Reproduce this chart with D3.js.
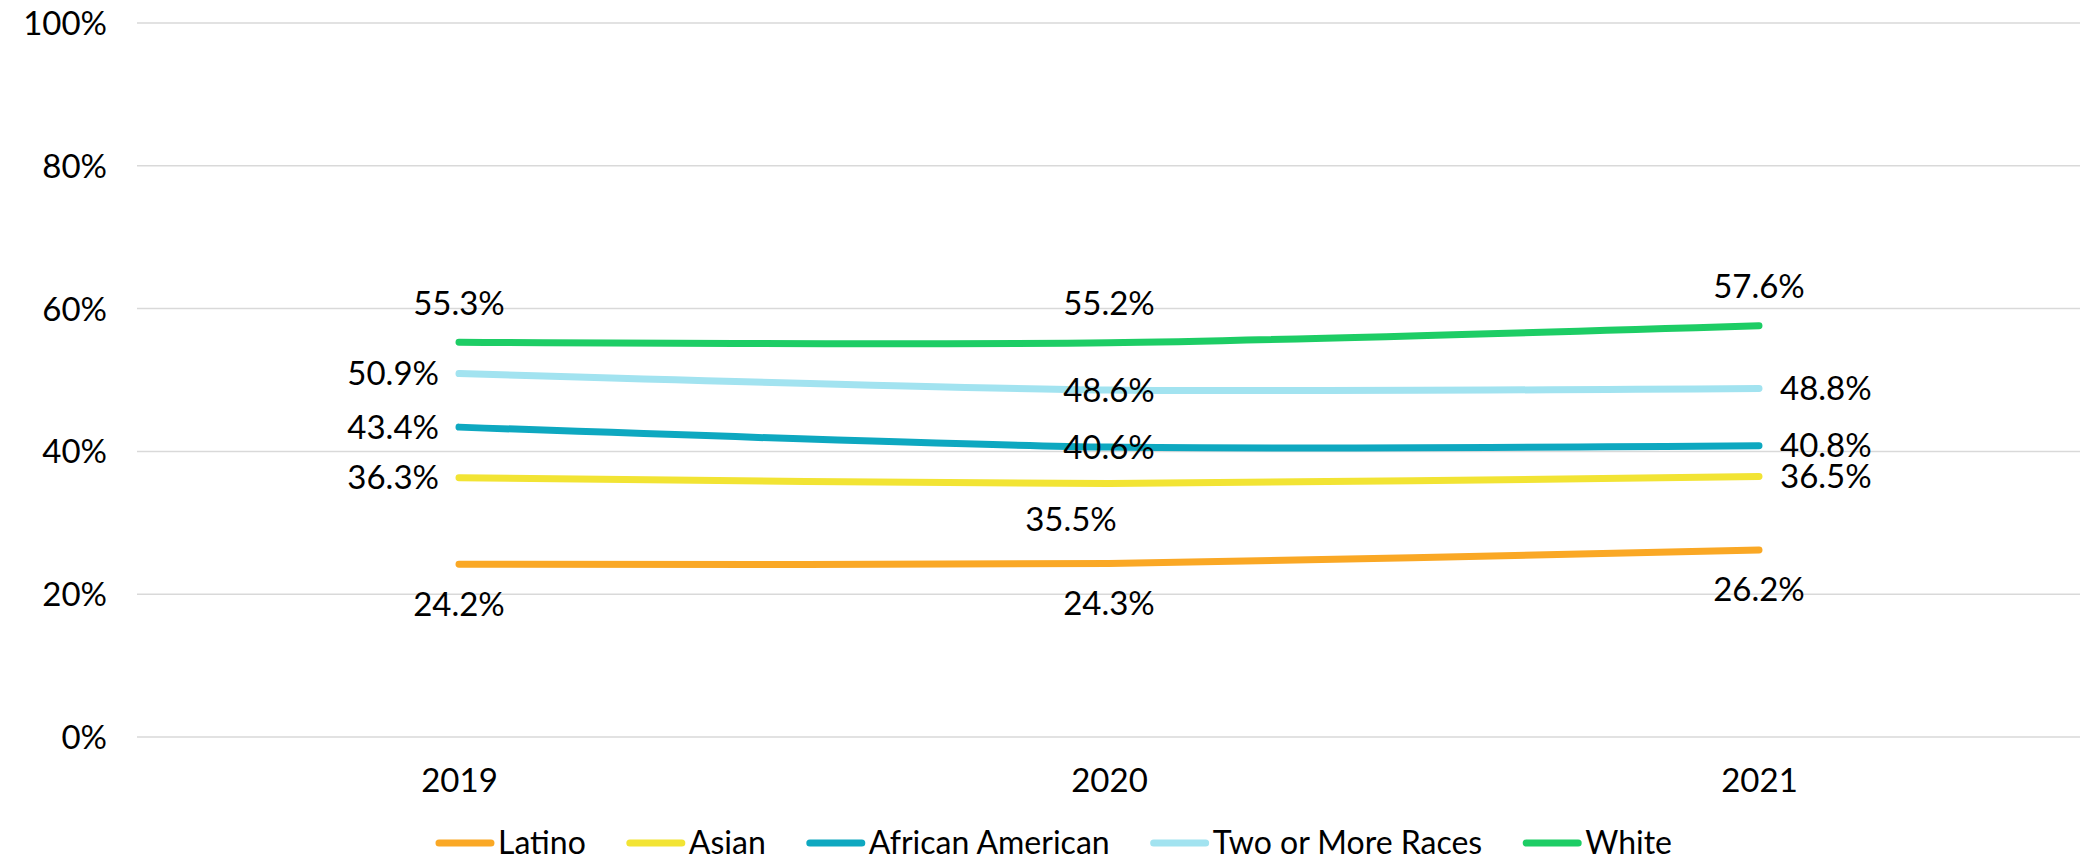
<!DOCTYPE html>
<html>
<head>
<meta charset="utf-8">
<script src="https://cdn.jsdelivr.net/npm/d3@7"></script>
<style>
  body { margin: 0; background: #fff; }
  text { font-family: Lato, "Open Sans", sans-serif; fill: #000; }
</style>
</head>
<body>
<div id="chart"></div>
<script>
// values (percent)
var years = ["2019", "2020", "2021"];
var seriesNames = ["Latino", "Asian", "African American", "Two or More Races", "White"];
var latino = [24.2, 24.3, 26.2];
var asian = [36.3, 35.5, 36.5];
var africanAmerican = [43.4, 40.6, 40.8];
var twoOrMore = [50.9, 48.6, 48.8];
var white = [55.3, 55.2, 57.6];
var yTicks = [0, 20, 40, 60, 80, 100];

var colors = ["#FAA825", "#F2E434", "#0EA8C0", "#A2E3F0", "#1DCD65"];
// where each data label sits relative to its point, per series, per year
var labelPos = [
  ["below", "below", "below"],
  ["left", "below-left", "right"],
  ["left", "center", "right"],
  ["left", "center", "right"],
  ["above", "above", "above"]
];

var allValues = [latino, asian, africanAmerican, twoOrMore, white];

var W = 2088, H = 860;
var fontSize = 33;

var svg = d3.select("#chart").append("svg")
  .attr("width", W)
  .attr("height", H);

var x = d3.scalePoint()
  .domain(years)
  .range([134, 2084])
  .padding(0.5);

var y = d3.scaleLinear()
  .domain([0, 100])
  .range([737, 23]);

// gridlines
svg.append("g")
  .selectAll("line")
  .data(yTicks)
  .enter().append("line")
  .attr("x1", 137)
  .attr("x2", 2080)
  .attr("y1", function(d) { return y(d); })
  .attr("y2", function(d) { return y(d); })
  .attr("stroke", "#D9D9D9")
  .attr("stroke-width", 1.5);

// y axis
var yAxis = d3.axisLeft(y)
  .tickValues(yTicks)
  .tickSize(0)
  .tickPadding(0)
  .tickFormat(function(d) { return d + "%"; });
var gy = svg.append("g")
  .attr("transform", "translate(107,0)")
  .call(yAxis);
gy.select(".domain").remove();
gy.selectAll("text")
  .attr("font-size", fontSize)
  .attr("font-family", null)
  .attr("dy", "0.35em");

// x axis
var xAxis = d3.axisBottom(x).tickSize(0).tickPadding(0);
var gx = svg.append("g")
  .attr("transform", "translate(0,780)")
  .call(xAxis);
gx.select(".domain").remove();
gx.selectAll("text")
  .attr("font-size", fontSize)
  .attr("font-family", null)
  .attr("dy", "0.35em");

// lines
var line = d3.line()
  .x(function(d, i) { return x(years[i]); })
  .y(function(d) { return y(d); })
  .curve(d3.curveCardinal.tension(0.3));

svg.append("g")
  .selectAll("path")
  .data(allValues)
  .enter().append("path")
  .attr("d", line)
  .attr("fill", "none")
  .attr("stroke", function(d, i) { return colors[i]; })
  .attr("stroke-width", 7)
  .attr("stroke-linecap", "round")
  .attr("stroke-linejoin", "round");

// data labels
var labels = [];
allValues.forEach(function(vals, s) {
  vals.forEach(function(v, i) {
    labels.push({v: v, year: years[i], pos: labelPos[s][i]});
  });
});

svg.append("g")
  .selectAll("text")
  .data(labels)
  .enter().append("text")
  .attr("font-size", fontSize)
  .attr("dy", "0.35em")
  .attr("x", function(d) {
    var px = x(d.year);
    if (d.pos == "left") return px - 20;
    if (d.pos == "right") return px + 21;
    if (d.pos == "below-left") return px - 38;
    return px;
  })
  .attr("y", function(d) {
    var py = y(d.v);
    if (d.pos == "above") return py - 39;
    if (d.pos == "below") return py + 40;
    if (d.pos == "below-left") return py + 36;
    return py;
  })
  .attr("text-anchor", function(d) {
    if (d.pos == "left") return "end";
    if (d.pos == "right") return "start";
    return "middle";
  })
  .text(function(d) { return d.v.toFixed(1) + "%"; });

// legend
var legend = svg.append("g");
var items = legend.selectAll("g")
  .data(seriesNames)
  .enter().append("g");
items.append("line")
  .attr("x1", 3).attr("x2", 55)
  .attr("y1", 0).attr("y2", 0)
  .attr("stroke", function(d, i) { return colors[i]; })
  .attr("stroke-width", 7)
  .attr("stroke-linecap", "round");
items.append("text")
  .attr("x", 62)
  .attr("dy", "0.35em")
  .attr("font-size", 32)
  .text(function(d) { return d; });

var cx = 0;
items.each(function() {
  var g = d3.select(this);
  g.attr("transform", "translate(" + cx + ",0)");
  var tw = g.select("text").node().getComputedTextLength();
  cx += 62 + tw + 41;
});
var total = cx - 41;
legend.attr("transform", "translate(" + (1054 - total / 2) + ",843)");
</script>
</body>
</html>
